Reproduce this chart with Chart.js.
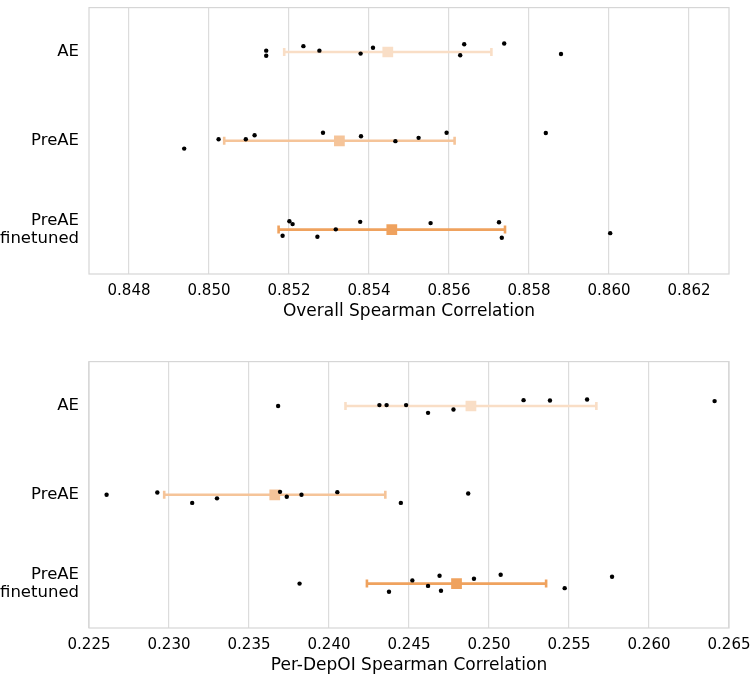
<!DOCTYPE html>
<html>
<head>
<meta charset="utf-8">
<script src="https://cdn.jsdelivr.net/npm/chart.js@4.4.1/dist/chart.umd.min.js"></script>
<style>
  html, body { margin: 0; padding: 0; background: #fff; overflow: hidden; }
  #wrap { position: relative; width: 750px; height: 676px; }
  .panel { position: absolute; left: 0; width: 750px; height: 338px; }
</style>
</head>
<body>
<div id="wrap">
  <div class="panel" style="top:0"><canvas id="overall-chart" width="750" height="338"></canvas></div>
  <div class="panel" style="top:354px"><canvas id="depoi-chart" width="750" height="338"></canvas></div>
</div>
<script>
// Категории (сверху вниз)
const categories = ['AE', 'PreAE', ['PreAE', 'finetuned']];
const seriesColors = ['#f9dec6', '#f5c499', '#efa25e'];

// Overall Spearman Correlation — отдельные прогоны
const overallAE = [0.85143, 0.85143, 0.85236, 0.85276, 0.85379, 0.85410, 0.85628, 0.85638, 0.85738, 0.85880];
const overallAEJitter = [-0.015, 0.043, -0.066, -0.015, 0.018, -0.048, 0.036, -0.088, -0.095, 0.022];
const overallPreAE = [0.84938, 0.85024, 0.85092, 0.85114, 0.85285, 0.85380, 0.85466, 0.85524, 0.85594, 0.85842];
const overallPreAEJitter = [0.088, -0.018, -0.018, -0.062, -0.091, -0.051, 0.004, -0.033, -0.091, -0.088];
const overallFinetuned = [0.85184, 0.85201, 0.85209, 0.85271, 0.85317, 0.85378, 0.85554, 0.85725, 0.85732, 0.86003];
const overallFinetunedJitter = [0.069, -0.094, -0.062, 0.080, -0.003, -0.087, -0.073, -0.083, 0.091, 0.040];
const overallMean = [0.85447, 0.85326, 0.85457];
const overallStd = [0.00259, 0.00288, 0.00283];
const overallTicks = [0.848, 0.850, 0.852, 0.854, 0.856, 0.858, 0.860, 0.862];

// Per-DepOI Spearman Correlation
const depoiAE = [0.23682, 0.24315, 0.24360, 0.24482, 0.24619, 0.24778, 0.25216, 0.25381, 0.25613, 0.26410];
const depoiAEJitter = [0.0, -0.01, -0.01, -0.01, 0.077, 0.04, -0.066, -0.062, -0.073, -0.055];
const depoiPreAE = [0.22610, 0.22927, 0.23145, 0.23300, 0.23694, 0.23736, 0.23828, 0.24052, 0.24449, 0.24870];
const depoiPreAEJitter = [0.0, -0.026, 0.091, 0.04, -0.033, 0.022, 0.0, -0.03, 0.091, -0.015];
const depoiFinetuned = [0.23816, 0.24375, 0.24521, 0.24619, 0.24691, 0.24700, 0.24906, 0.25073, 0.25473, 0.25769];
const depoiFinetunedJitter = [0.0, 0.091, -0.036, 0.026, -0.088, 0.081, -0.055, -0.099, 0.051, -0.077];
const depoiMean = [0.24887, 0.23661, 0.24797];
const depoiStd = [0.00784, 0.00691, 0.00560];
const depoiTicks = [0.225, 0.230, 0.235, 0.240, 0.245, 0.250, 0.255, 0.260, 0.265];

const FONT = 'DejaVu Sans';

// рамка вокруг области графика
const frame = {
    id: 'frame',
    afterDraw(chart) {
        const a = chart.chartArea;
        const ctx = chart.ctx;
        ctx.save();
        ctx.strokeStyle = '#d6d6d6';
        ctx.lineWidth = 1.2;
        ctx.strokeRect(a.left, a.top, a.right - a.left, a.bottom - a.top);
        ctx.restore();
    }
};

// убираем автоматические отступы под подписи, чтобы область графика была фиксированной
function noPad(s) {
    s.paddingTop = 0;
    s.paddingBottom = 0;
    s.paddingLeft = 0;
    s.paddingRight = 0;
}

function makeChart(canvasId, runs, jitters, means, stds, ticks, xMin, xMax, title) {
    const datasets = [];

    // отдельные прогоны — чёрные точки
    runs.forEach((vals, i) => {
        datasets.push({
            data: vals.map((v, j) => ({ x: v, y: i + jitters[i][j] })),
            backgroundColor: '#000',
            borderColor: '#000',
            pointRadius: 2.2,
            borderWidth: 0,
            order: 0
        });
    });

    // среднее ± std
    means.forEach((m, i) => {
        datasets.push({
            data: [{ x: m - stds[i], y: i }, { x: m + stds[i], y: i }],
            showLine: true,
            borderColor: seriesColors[i],
            borderWidth: 2.6,
            pointStyle: 'line',
            rotation: 90,
            pointRadius: 4,
            pointBorderWidth: 2.6,
            pointBorderColor: seriesColors[i],
            order: 2
        });
        datasets.push({
            data: [{ x: m, y: i }],
            pointStyle: 'rect',
            pointRadius: 7.6,
            backgroundColor: seriesColors[i],
            borderColor: seriesColors[i],
            borderWidth: 0,
            order: 1
        });
    });

    return new Chart(document.getElementById(canvasId), {
        type: 'scatter',
        data: { datasets: datasets },
        options: {
            responsive: false,
            animation: false,
            events: [],
            layout: { padding: { left: 0, right: 21, top: 1, bottom: 0 } },
            plugins: { legend: { display: false }, tooltip: { enabled: false } },
            scales: {
                x: {
                    type: 'linear',
                    min: xMin,
                    max: xMax,
                    afterBuildTicks: s => { s.ticks = ticks.map(v => ({ value: v })); },
                    afterFit: s => { s.height = 64; noPad(s); },
                    grid: { color: '#dcdcdc', lineWidth: 1.2, drawTicks: false },
                    border: { display: false },
                    ticks: {
                        padding: 8,
                        color: '#000',
                        font: { family: FONT, size: 15 },
                        callback: v => v.toFixed(3)
                    },
                    title: {
                        display: true,
                        text: title,
                        color: '#000',
                        font: { family: FONT, size: 17 },
                        padding: { top: 0, bottom: 16 }
                    }
                },
                y: {
                    type: 'linear',
                    min: -0.5,
                    max: 2.5,
                    reverse: true,
                    afterBuildTicks: s => { s.ticks = [0, 1, 2].map(v => ({ value: v })); },
                    afterFit: s => { s.width = 89; noPad(s); },
                    grid: { display: false, drawTicks: false },
                    border: { display: false },
                    ticks: {
                        padding: 10,
                        color: '#000',
                        font: { family: FONT, size: 16.5, lineHeight: 1.1 },
                        callback: v => categories[v]
                    }
                }
            }
        },
        plugins: [frame]
    });
}

document.addEventListener('DOMContentLoaded', () => {
    makeChart('overall-chart',
        [overallAE, overallPreAE, overallFinetuned],
        [overallAEJitter, overallPreAEJitter, overallFinetunedJitter],
        overallMean, overallStd, overallTicks, 0.847, 0.863,
        'Overall Spearman Correlation');

    makeChart('depoi-chart',
        [depoiAE, depoiPreAE, depoiFinetuned],
        [depoiAEJitter, depoiPreAEJitter, depoiFinetunedJitter],
        depoiMean, depoiStd, depoiTicks, 0.225, 0.265,
        'Per-DepOI Spearman Correlation');
});
</script>
</body>
</html>
